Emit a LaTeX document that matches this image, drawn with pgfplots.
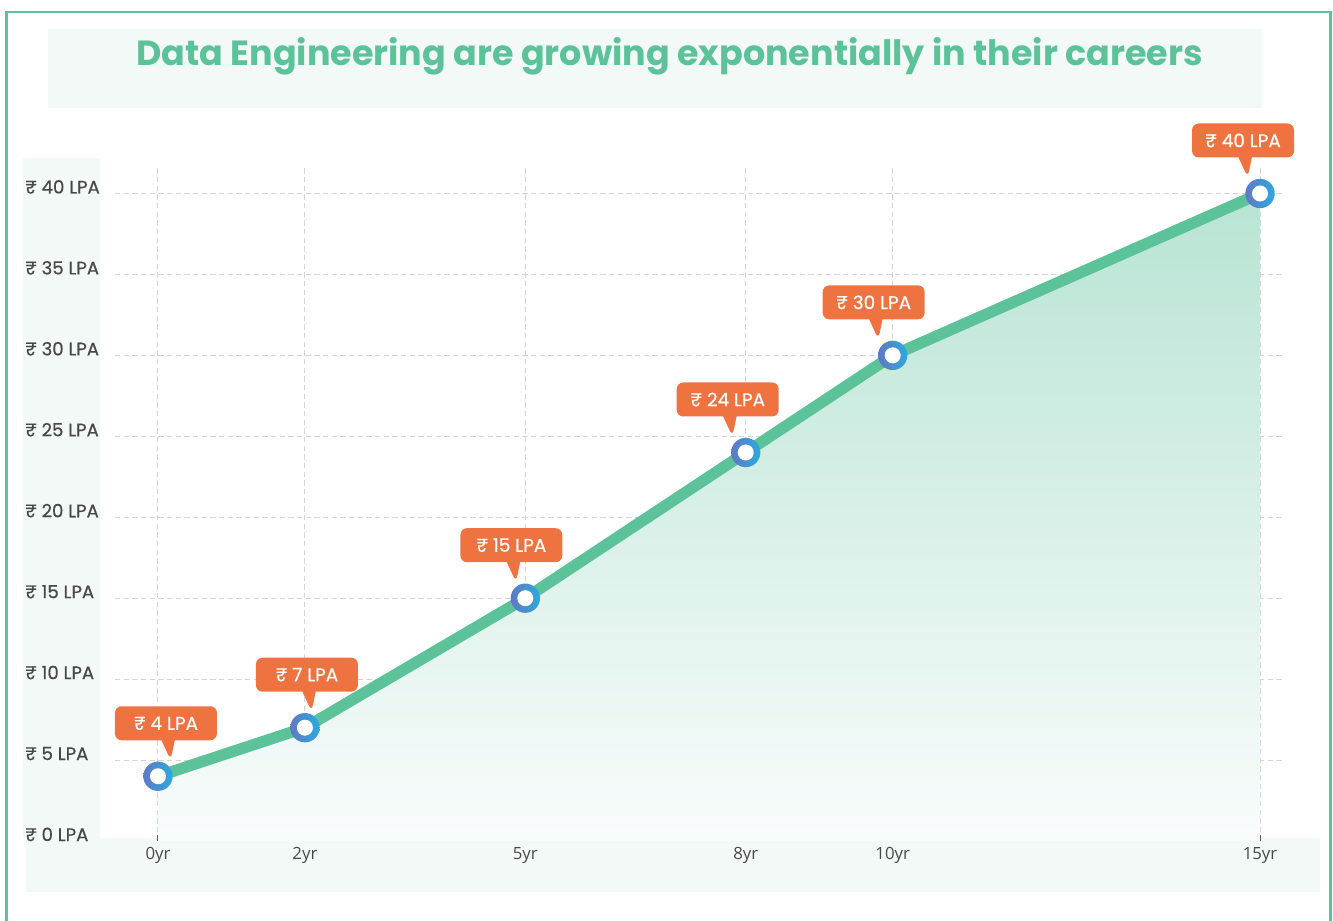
\documentclass[border=0pt]{standalone}
\usepackage{pgfplots}
\pgfplotsset{compat=1.18}
\usepackage{pgfplotstable}
\usetikzlibrary{shapes.callouts}
\usepackage{fontspec}
\setmainfont{Poppins}
\newfontfamily\popmed{Poppins}[FakeBold=0.5]
\newfontfamily\opensans{Open Sans}
\definecolor{brand}{RGB}{92,194,154}
\definecolor{bandbg}{RGB}{243,249,247}
\definecolor{callout}{RGB}{239,115,64}
\definecolor{ringL}{RGB}{96,120,196}
\definecolor{ringR}{RGB}{44,170,222}
\definecolor{areaT}{RGB}{184,228,212}
\definecolor{areaB}{RGB}{249,252,252}
\definecolor{gridc}{RGB}{212,212,212}
\definecolor{labc}{RGB}{72,72,72}

\pgfdeclarehorizontalshading{ringshade}{100bp}{color(0bp)=(ringL); color(25bp)=(ringL); color(75bp)=(ringR); color(100bp)=(ringR)}
\pgfdeclareplotmark{ring}{%
  \pgfpathcircle{\pgfpointorigin}{11pt}%
  \pgfshadepath{ringshade}{0}%
  \pgfusepath{}%
  \pgfpathcircle{\pgfpointorigin}{6pt}%
  \pgfsetfillcolor{white}%
  \pgfusepath{fill}}

\pgfplotstableread{
x y dx
0 4 6
2 7 1.5
5 15 -10.5
8 24 -13.5
10 30 -14.25
15 40 -12.75
}\datatable

\begin{document}
\begin{tikzpicture}
\useasboundingbox (0pt,0pt) rectangle (999.75pt,-690pt);
\begin{scope}[x=0.75pt,y=-0.75pt]
  \draw[brand, line width=1.8pt] (6.5,930) -- (6.5,12) -- (1330.5,12) -- (1330.5,930);
  \fill[bandbg] (48,29) rectangle (1262,108);
  \fill[bandbg] (23,158) rectangle (100,838);
  \fill[bandbg] (26,838) rectangle (1320,892);
  \node[anchor=base, text=brand, font=\fontsize{26.2}{30}\selectfont\bfseries, inner sep=0pt] at (669.5,66) {Data Engineering are growing exponentially in their careers};
\end{scope}
\begin{axis}[
  at={(86.25pt,-630.75pt)}, anchor=south west,
  scale only axis, width=877.5pt, height=507pt,
  xmin=-0.585, xmax=15.34, ymin=0, ymax=41.76,
  clip=false,
  axis line style={draw=none},
  xtick={0,2,5,8,10,15},
  ytick={5,10,...,40},
  extra y ticks={0}, extra y tick style={grid=none},
  grid=major,
  major grid style={gridc, dash pattern=on 4pt off 2.5pt, line width=0.75pt},
  xtick pos=bottom, ytick pos=left,
  tick align=inside,
  major tick length=4.5pt,
  xtick style={draw=black!75, line width=1.2pt},
  ytick style={draw=none},
  /pgf/number format/assume math mode=true,
  yticklabel={₹ \pgfmathprintnumber{\tick} LPA},
  yticklabel style={anchor=base west, inner sep=0pt, xshift=-67.5pt, font=\popmed\fontsize{13.6}{15}\selectfont, text=labc},
  xticklabel={\pgfmathprintnumber{\tick}yr},
  xticklabel style={font=\opensans\fontsize{12.6}{14}\selectfont, text=labc, yshift=-1pt},
]
\addplot[draw=none, top color=areaT, bottom color=areaB, forget plot] table[x=x,y=y]{\datatable} \closedcycle;
\addplot[brand, line width=8.5pt, line join=round, mark=ring,
  point meta=y,
  visualization depends on={\thisrow{dx} \as \dx},
  nodes near coords={₹ \pgfmathprintnumber{\pgfplotspointmeta} LPA},
  nodes near coords style={shape=rectangle callout, fill=callout, draw=none, text=white,
    anchor=center, minimum width=76.5pt, minimum height=25.5pt, rounded corners=5pt,
    callout relative pointer={(1.9pt,-15pt)}, callout pointer width=10pt,
    xshift=\dx pt, yshift=39.75pt, inner sep=0pt,
    font=\popmed\fontsize{13.8}{15}\selectfont},
] table[x=x,y=y]{\datatable};
\end{axis}
\end{tikzpicture}
\end{document}
